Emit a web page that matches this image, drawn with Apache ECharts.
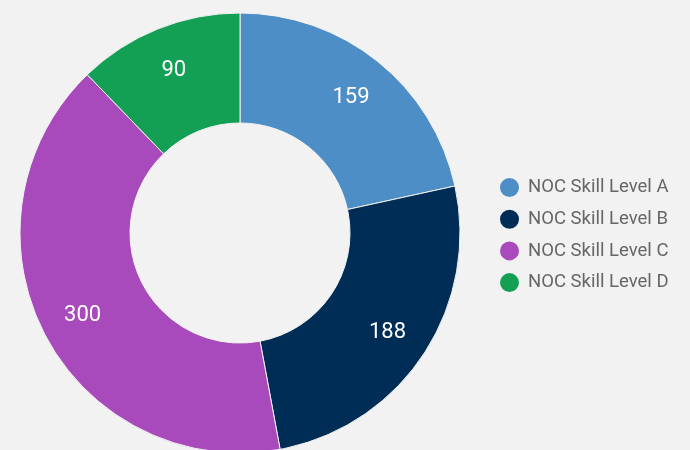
<!DOCTYPE html>
<html><head><meta charset="utf-8">
<script src="https://cdn.jsdelivr.net/npm/echarts@6/dist/echarts.min.js"></script>
<style>html,body{margin:0;padding:0;background:#f2f2f2}#c{width:690px;height:450px}</style>
</head><body><div id="c"></div>
<script>
const categories = ["NOC Skill Level A","NOC Skill Level B","NOC Skill Level C","NOC Skill Level D"];
const values = [159, 188, 300, 90];
const colors = ["#4e8ec7","#002d55","#a84abb","#13a055"];
const chart = echarts.init(document.getElementById('c'));
chart.setOption({
  backgroundColor:'#f2f2f2',
  animation:false,
  legend:{
    orient:'vertical', left:493, top:171,
    icon:'circle', itemWidth:21, itemHeight:21, itemGap:8.7,
    textStyle:{fontFamily:'Roboto', fontSize:18.5, color:'#666', padding:[0,0,0,3]},
    data:categories
  },
  series:[{
    type:'pie', center:[240,233], radius:[110,220], startAngle:90, clockwise:true,
    avoidLabelOverlap:false,
    label:{show:false},
    labelLine:{show:false},
    itemStyle:{borderColor:'#f2f2f2', borderWidth:1},
    data:categories.map((n,i)=>({name:n,value:values[i],itemStyle:{color:colors[i]}}))
  },{
    type:'pie', center:[240,233], radius:[128,220], startAngle:90, clockwise:true,
    silent:true, avoidLabelOverlap:false,
    label:{show:true, position:'inside', formatter:'{c}', color:'#fff', fontFamily:'Roboto', fontSize:22, offset:[0,2]},
    labelLine:{show:false},
    itemStyle:{color:'rgba(0,0,0,0)'},
    emphasis:{disabled:true},
    data:categories.map((n,i)=>({name:n,value:values[i]}))
  }]
});
</script></body></html>
